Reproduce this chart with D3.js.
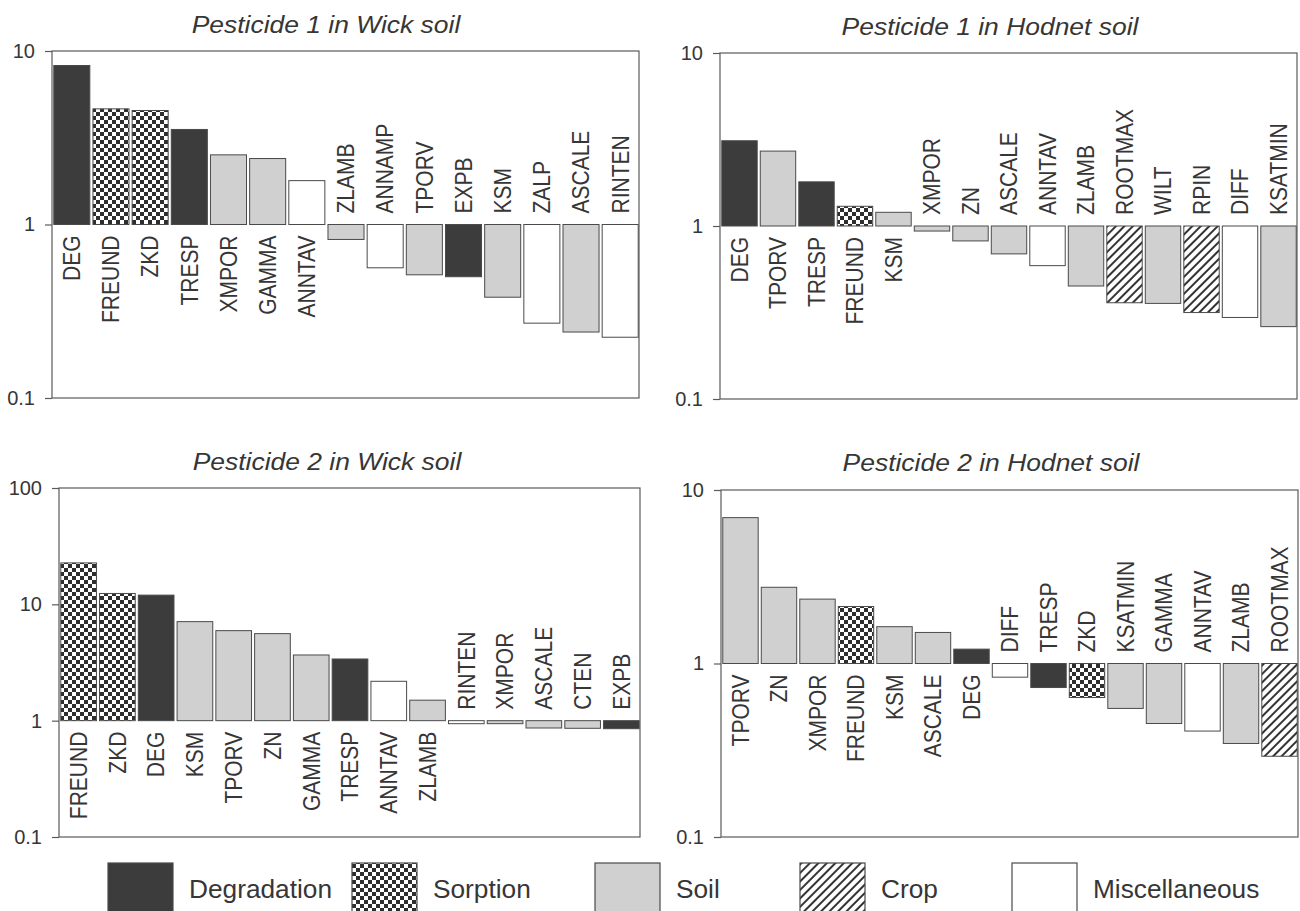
<!DOCTYPE html>
<html>
<head>
<meta charset="utf-8">
<script src="https://cdn.jsdelivr.net/npm/d3@7/dist/d3.min.js"></script>
<style>
  html, body { margin: 0; padding: 0; background: #fff; }
  svg { display: block; }
  text { font-family: "Liberation Sans", Arial, Helvetica, sans-serif; fill: #363636; }
</style>
</head>
<body>
<svg id="chart" width="1300" height="911"></svg>
<script>
// Sensitivity of predicted pesticide loss to each model parameter (log scale, 1 = no change)

// Pesticide 1 in Wick soil
const p1WickNames  = ["DEG", "FREUND", "ZKD", "TRESP", "XMPOR", "GAMMA", "ANNTAV", "ZLAMB", "ANNAMP", "TPORV", "EXPB", "KSM", "ZALP", "ASCALE", "RINTEN"];
const p1WickValues = [8.25, 4.64, 4.54, 3.53, 2.52, 2.40, 1.79, 0.82, 0.563, 0.513, 0.50, 0.381, 0.27, 0.24, 0.224];
const p1WickGroups = ["deg", "sorp", "sorp", "deg", "soil", "soil", "misc", "soil", "misc", "soil", "deg", "soil", "misc", "soil", "misc"];

// Pesticide 1 in Hodnet soil
const p1HodNames  = ["DEG", "TPORV", "TRESP", "FREUND", "KSM", "XMPOR", "ZN", "ASCALE", "ANNTAV", "ZLAMB", "ROOTMAX", "WILT", "RPIN", "DIFF", "KSATMIN"];
const p1HodValues = [3.11, 2.71, 1.80, 1.30, 1.20, 0.935, 0.82, 0.69, 0.59, 0.45, 0.36, 0.357, 0.316, 0.296, 0.262];
const p1HodGroups = ["deg", "soil", "deg", "sorp", "soil", "soil", "soil", "soil", "misc", "soil", "crop", "soil", "crop", "misc", "soil"];

// Pesticide 2 in Wick soil
const p2WickNames  = ["FREUND", "ZKD", "DEG", "KSM", "TPORV", "ZN", "GAMMA", "TRESP", "ANNTAV", "ZLAMB", "RINTEN", "XMPOR", "ASCALE", "CTEN", "EXPB"];
const p2WickValues = [22.7, 12.4, 12.0, 7.1, 5.94, 5.6, 3.67, 3.39, 2.18, 1.50, 0.942, 0.942, 0.865, 0.86, 0.853];
const p2WickGroups = ["sorp", "sorp", "deg", "soil", "soil", "soil", "soil", "deg", "misc", "soil", "misc", "soil", "soil", "soil", "deg"];

// Pesticide 2 in Hodnet soil
const p2HodNames  = ["TPORV", "ZN", "XMPOR", "FREUND", "KSM", "ASCALE", "DEG", "DIFF", "TRESP", "ZKD", "KSATMIN", "GAMMA", "ANNTAV", "ZLAMB", "ROOTMAX"];
const p2HodValues = [6.93, 2.75, 2.35, 2.13, 1.63, 1.51, 1.21, 0.834, 0.727, 0.637, 0.551, 0.451, 0.408, 0.346, 0.292];
const p2HodGroups = ["soil", "soil", "soil", "sorp", "soil", "soil", "deg", "misc", "deg", "sorp", "soil", "soil", "misc", "soil", "crop"];

// Panel titles and axis tick values
const panelTitles = ["Pesticide 1 in Wick soil", "Pesticide 1 in Hodnet soil", "Pesticide 2 in Wick soil", "Pesticide 2 in Hodnet soil"];
const ticksSmall = [0.1, 1, 10];
const ticksLarge = [0.1, 1, 10, 100];

// Legend
const legendKeys   = ["deg", "sorp", "soil", "crop", "misc"];
const legendLabels = ["Degradation", "Sorption", "Soil", "Crop", "Miscellaneous"];

const svg = d3.select("#chart");
const defs = svg.append("defs");

// checkerboard for sorption parameters
const chk = defs.append("pattern").attr("id", "pat-sorp")
  .attr("patternUnits", "userSpaceOnUse").attr("width", 8).attr("height", 8);
chk.append("rect").attr("width", 8).attr("height", 8).attr("fill", "#fff");
chk.append("rect").attr("width", 4).attr("height", 4).attr("fill", "#2e2e2e");
chk.append("rect").attr("x", 4).attr("y", 4).attr("width", 4).attr("height", 4).attr("fill", "#2e2e2e");

// diagonal hatching for crop parameters
const hatch = defs.append("pattern").attr("id", "pat-crop")
  .attr("patternUnits", "userSpaceOnUse").attr("width", 6).attr("height", 6)
  .attr("patternTransform", "rotate(45)");
hatch.append("rect").attr("width", 6).attr("height", 6).attr("fill", "#fff");
hatch.append("rect").attr("x", 0).attr("width", 2).attr("height", 6).attr("fill", "#333");

const fills = {
  deg: "#3c3c3c",
  sorp: "url(#pat-sorp)",
  soil: "#d0d0d0",
  crop: "url(#pat-crop)",
  misc: "#ffffff"
};

const panels = [
  { names: p1WickNames, values: p1WickValues, groups: p1WickGroups, title: panelTitles[0],
    box: [52, 51, 639, 398], ticks: ticksSmall, title_xy: [326, 33] },
  { names: p1HodNames, values: p1HodValues, groups: p1HodGroups, title: panelTitles[1],
    box: [720, 53, 1297, 399], ticks: ticksSmall, title_xy: [990, 35] },
  { names: p2WickNames, values: p2WickValues, groups: p2WickGroups, title: panelTitles[2],
    box: [59, 488, 640, 837], ticks: ticksLarge, title_xy: [327, 470] },
  { names: p2HodNames, values: p2HodValues, groups: p2HodGroups, title: panelTitles[3],
    box: [721, 490, 1298, 837], ticks: ticksSmall, title_xy: [991, 471] }
];

panels.forEach(p => {
  const [x0, y0, x1, y1] = p.box;
  const ticks = p.ticks;
  const y = d3.scaleLog().domain([ticks[0], ticks[ticks.length - 1]]).range([y1, y0]);
  const x = d3.scaleBand().domain(p.names).range([x0 + 1, x1]).paddingInner(0.08).paddingOuter(0.02);
  const g = svg.append("g");

  const rows = p.names.map((n, i) => ({ name: n, value: p.values[i], group: p.groups[i] }));

  // bars hang from the ratio of 1
  g.selectAll("rect.bar").data(rows).join("rect")
    .attr("class", "bar")
    .attr("x", d => x(d.name))
    .attr("width", x.bandwidth())
    .attr("y", d => Math.min(y(d.value), y(1)))
    .attr("height", d => Math.abs(y(d.value) - y(1)))
    .attr("fill", d => fills[d.group])
    .attr("stroke", "#4a4a4a")
    .attr("stroke-width", 1);

  // frame
  g.append("rect")
    .attr("x", x0).attr("y", y0).attr("width", x1 - x0).attr("height", y1 - y0)
    .attr("fill", "none").attr("stroke", "#5a5a5a").attr("stroke-width", 1.2);

  // y axis: decade ticks only
  const axis = d3.axisLeft(y).tickValues(ticks).tickFormat(d3.format("~g"))
    .tickSizeInner(7).tickSizeOuter(0).tickPadding(10);
  const ax = g.append("g").attr("transform", `translate(${x0},0)`).call(axis);
  ax.select(".domain").remove();
  ax.selectAll(".tick line").attr("stroke", "#5a5a5a").attr("stroke-width", 1.2);
  ax.selectAll(".tick text")
    .attr("font-size", 20).attr("fill", "#363636")
    .style("font-family", "'Liberation Sans', Arial, sans-serif");

  // parameter names on the opposite side of the baseline
  g.selectAll("text.lbl").data(rows).join("text")
    .attr("class", "lbl")
    .attr("font-size", 21)
    .attr("dy", "0.36em")
    .attr("text-anchor", d => d.value >= 1 ? "end" : "start")
    .attr("transform", d => {
      const cx = x(d.name) + x.bandwidth() / 2;
      const cy = d.value >= 1 ? y(1) + 11 : y(1) - 11;
      return `translate(${cx},${cy}) scale(1.1,1) rotate(-90)`;
    })
    .text(d => d.name);

  // panel title
  g.append("text")
    .attr("transform", `translate(${p.title_xy[0]},${p.title_xy[1]}) scale(1.15,1)`)
    .attr("text-anchor", "middle")
    .attr("font-size", 23)
    .attr("font-style", "italic")
    .attr("fill", "#3e3e3e")
    .text(p.title);
});

// legend along the bottom
const legendX = [108, 352, 595, 800, 1012];
const lg = svg.append("g");
legendKeys.forEach((k, i) => {
  lg.append("rect")
    .attr("x", legendX[i]).attr("y", 863).attr("width", 65).attr("height", 60)
    .attr("fill", fills[k]).attr("stroke", "#4a4a4a").attr("stroke-width", 1.2);
  lg.append("text")
    .attr("transform", `translate(${legendX[i] + 81},898) scale(1.05,1)`)
    .attr("font-size", 25)
    .text(legendLabels[i]);
});
</script>
</body>
</html>
